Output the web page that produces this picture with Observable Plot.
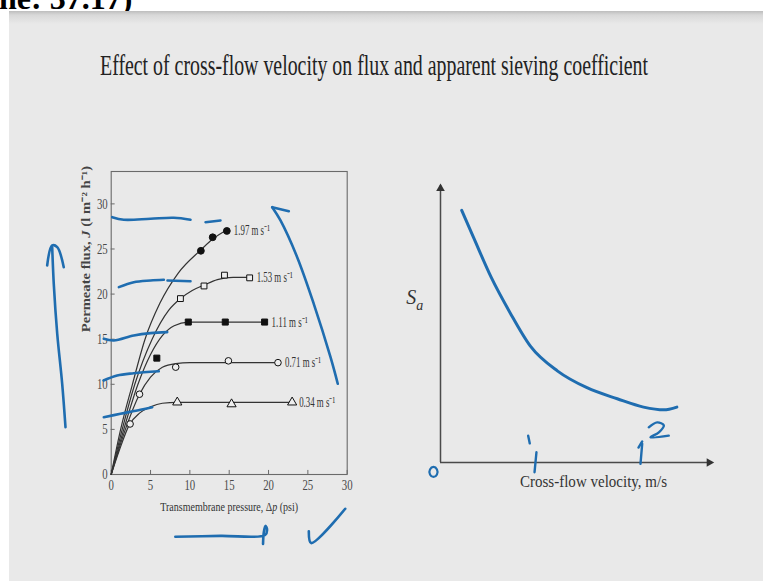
<!DOCTYPE html>
<html>
<head>
<meta charset="utf-8">
<script src="https://cdn.jsdelivr.net/npm/d3@7"></script>
<script src="https://cdn.jsdelivr.net/npm/@observablehq/plot@0.6"></script>
<style>
  html, body { margin: 0; padding: 0; background: #fff; }
  #page { position: relative; width: 763px; height: 581px; overflow: hidden; background: #fff; }
  #slide { position: absolute; left: 9px; top: 11px; right: 0; bottom: 0;
           background: linear-gradient(#bdbdbd 0px, #d8d8d8 4px, #e9e9e9 13px); }
  .abs { position: absolute; }
</style>
</head>
<body>
<div id="page">
  <svg class="abs" style="left:0;top:0" width="763" height="40">
    <text x="-1" y="9" font-family="Liberation Serif" font-weight="bold" font-size="32" fill="#000">ne: 37.17)</text>
  </svg>
  <div id="slide"></div>
  <svg id="heading" class="abs" style="left:0;top:0" width="763" height="100">
    <text id="title" font-family="Liberation Serif" font-size="30" fill="#222">Effect of cross-flow velocity on flux and apparent sieving coefficient</text>
  </svg>
  <div id="left" class="abs" style="left:0;top:150px;width:400px;height:420px"></div>
  <div id="right" class="abs" style="left:400px;top:150px;width:363px;height:400px"></div>
</div>
<script>
// ---------- Left panel: permeate flux vs transmembrane pressure ----------
const xTicks = [0, 5, 10, 15, 20, 25, 30];
const yTicks = [0, 5, 10, 15, 20, 25, 30];
const seriesLabels = ["1.97 m s⁻¹", "1.53 m s⁻¹", "1.11 m s⁻¹", "0.71 m s⁻¹", "0.34 m s⁻¹"];

// fitted curves, [psi, flux]
const curve197 = [[0,0],[1.2,5],[2.7,10],[4.3,15],[6.2,19],[8.5,22.3],[11.4,24.9],[12.9,26.1],[14.7,27.1]];
const curve153 = [[0,0],[1.4,5],[3.0,10],[5.2,15],[7.3,18.2],[8.8,19.5],[10.3,20.4],[11.8,21.0],[13.5,21.6],[15.5,21.85],[17.6,21.85]];
const curve111 = [[0,0],[1.6,5],[3.4,10],[5.0,13.3],[6.5,15.4],[8.0,16.5],[9.8,16.9],[14.5,16.9],[19.5,16.9]];
const curve071 = [[0,0],[1.8,5],[3.6,8.9],[5.0,10.8],[6.5,11.9],[8.2,12.3],[10,12.4],[21.2,12.4]];
const curve034 = [[0,0],[1.0,2.6],[2.3,5.5],[3.6,6.8],[5.0,7.5],[6.5,7.9],[8.4,8.0],[23,8.0]];

// measured points, [psi, flux]
const pts197 = [[11.4,24.8],[12.9,26.3],[14.7,27.0]];
const pts153 = [[8.8,19.5],[11.8,20.9],[14.4,22.1],[17.6,21.8]];
const pts111 = [[5.8,12.9],[9.8,16.9],[14.5,16.9],[19.5,16.9]];
const pts071 = [[2.4,5.6],[3.6,8.9],[8.2,11.9],[14.9,12.6],[21.2,12.4]];
const pts034 = [[8.4,8.0],[15.3,7.8],[23,8.0]];

// hand-drawn pen strokes over the left panel, in [psi, flux]
const penDash28a = [[0.13,28.53],[1.6,28.24],[5.0,28.35],[7.96,28.46],[10.08,28.24]];
const penDash28b = [[11.99,27.97],[13.89,28.16]];
const penDash21a = [[0.97,20.77],[2.87,21.32],[5.0,21.51],[6.69,21.59]];
const penDash21b = [[7.16,21.51],[10.08,21.43]];
const penDash15 = [[-0.94,15.04],[0.33,14.86],[2.87,15.41],[5.0,15.67],[7.12,15.78]];
const penDash11 = [[-0.98,10.42],[0.76,10.98],[2.87,11.23],[6.05,11.45]];
const penDash7 = [[-0.94,6.35],[1.18,6.73],[3.72,7.17],[5.21,7.46]];
const penArrowUpShaft = [[28.8,10.06],[27.88,13.0],[25.75,18.92],[23.64,24.09],[21.52,28.16],[20.47,29.63]];
const penArrowUpHead = [[20.47,29.63],[22.58,29.19]];
const penLeftShaft = [[-5.81,5.24],[-6.23,10.05],[-6.86,15.59],[-7.3,21.14],[-7.5,25.2]];
const penLeftHead = [[-8.14,23.17],[-7.5,25.39],[-6.86,25.2],[-6.03,22.98]];
const penBottomArrow = [[8.15,-6.9],[13.9,-6.8],[19.56,-6.7],[19.8,-6.0],[19.6,-5.7],[19.4,-6.4],[19.3,-7.7]];
const penCheck = [[25.12,-6.3],[25.42,-7.6],[29.75,-3.8]];

const ink = "#1f6db0";
const rows = (name, pts) => pts.map(([x, y]) => ({name, x, y}));
const curves = [curve197, curve153, curve111, curve071, curve034];
const points = [pts197, pts153, pts111, pts071, pts034];
const markerStyle = [
  {symbol: "circle", fill: "#111", r: 3.4},
  {symbol: "square", fill: "#eee", r: 3.3},
  {symbol: "square", fill: "#111", r: 3.4},
  {symbol: "circle", fill: "#eee", r: 3.3},
  {symbol: "triangle", fill: "#eee", r: 3.4}
];
const leftPen = {
  penDash28a, penDash28b, penDash21a, penDash21b, penDash15, penDash11, penDash7,
  penArrowUpShaft, penArrowUpHead, penLeftShaft, penLeftHead, penBottomArrow, penCheck
};
const penRows = (obj) => Object.entries(obj).flatMap(([k, v]) => rows(k, v));

const left = Plot.plot({
  width: 400, height: 420,
  marginLeft: 110.7, marginRight: 53.3, marginTop: 21, marginBottom: 96,
  x: {domain: [0, 30]},
  y: {domain: [0, 33.59]},
  style: {background: "transparent", overflow: "visible", fontFamily: "Liberation Serif", fontSize: "15px", color: "#444"},
  marks: [
    Plot.frame({stroke: "#6a6a6a", strokeWidth: 1.1}),
    Plot.ruleY(yTicks, {y: d => d, x1: 0, x2: 0.5, stroke: "#6a6a6a"}),
    Plot.ruleX(xTicks, {x: d => d, y1: 0, y2: 0.45, stroke: "#6a6a6a"}),
    Plot.axisY(yTicks, {tickSize: 0, tickPadding: 3.5, label: null, fill: "#4a4a4a"}),
    Plot.axisX(xTicks, {tickSize: 0, tickPadding: 5, label: null, fill: "#4a4a4a"}),
    Plot.text(["Permeate flux, J (l m⁻² h⁻¹)"], {frameAnchor: "left", rotate: -90, dx: -25, dy: 0, fontSize: 13, fontWeight: "bold", fill: "#444"}),
    Plot.text(["Transmembrane pressure, Δp (psi)"], {frameAnchor: "bottom", dy: 36, fontSize: 13, fill: "#333"}),
    Plot.line(seriesLabels.flatMap((s, i) => rows(s, curves[i])), {x: "x", y: "y", z: "name", curve: "monotone-x", stroke: "#333", strokeWidth: 1.2}),
    ...seriesLabels.map((s, i) => Plot.dot(rows(s, points[i]), {
      x: "x", y: "y", symbol: markerStyle[i].symbol, r: markerStyle[i].r,
      fill: markerStyle[i].fill, stroke: "#111", strokeWidth: 1
    })),
    Plot.text(seriesLabels.map((s, i) => ({name: s, x: points[i].at(-1)[0], y: points[i].at(-1)[1]})),
      {x: "x", y: "y", text: "name", dx: 7, textAnchor: "start", fontSize: 14, fill: "#333"}),
    Plot.line(penRows(leftPen), {x: "x", y: "y", z: "name", curve: "catmull-rom", stroke: ink, strokeWidth: 2.6, strokeLinecap: "round", strokeLinejoin: "round"})
  ]
});
document.getElementById("left").append(left);

// ---------- Right panel: sketch of apparent sieving coefficient vs velocity ----------
const velocity = [0.21, 0.33, 0.50, 0.69, 0.89, 1.16, 1.45, 1.75, 2.01, 2.21, 2.34];
const sieving  = [0.91, 0.81, 0.67, 0.54, 0.42, 0.33, 0.27, 0.23, 0.20, 0.19, 0.20];
const xAxisEnd = 2.69;
const penTick1a = [[0.868,0.097],[0.884,0.069]];
const penTick1b = [[0.950,0.037],[0.931,-0.035]];
const penTick2a = [[1.96,0.054],[1.997,0.076]];
const penTick2b = [[1.997,0.068],[1.980,-0.005]];
const penTwo = [[2.062,0.127],[2.145,0.145],[2.211,0.134],[2.162,0.109],[2.079,0.091],[2.260,0.097]];
const penZero = [[-0.069,-0.016],[-0.035,-0.025],[-0.035,-0.043],[-0.069,-0.052],[-0.104,-0.043],[-0.104,-0.025]];
const rightPen = {penTick1a, penTick1b, penTick2a, penTick2b, penTwo};

const right = Plot.plot({
  width: 363, height: 400,
  marginLeft: 40, marginRight: 51.3, marginTop: 35, marginBottom: 88,
  x: {domain: [0, xAxisEnd], axis: null},
  y: {domain: [0, 1], axis: null},
  style: {background: "transparent", overflow: "visible", fontFamily: "Liberation Serif", color: "#333"},
  marks: [
    Plot.ruleX([0], {y1: 0, y2: 1, stroke: "#4a4a4a", strokeWidth: 1.5}),
    Plot.ruleY([0], {x1: 0, x2: xAxisEnd, stroke: "#4a4a4a", strokeWidth: 1.5}),
    Plot.dot([{x: 0, y: 1}], {x: "x", y: "y", symbol: "triangle", r: 3.2, fill: "#333", dy: 3}),
    Plot.dot([{x: xAxisEnd, y: 0}], {x: "x", y: "y", symbol: "triangle", r: 3.2, fill: "#333", rotate: 90, dx: -3}),
    Plot.text(["Sa"], {x: -0.255, y: 0.594, fontSize: 20, fontStyle: "italic", fill: "#333"}),
    Plot.text(["Cross-flow velocity, m/s"], {x: 1.515, y: -0.067, fontSize: 17, fill: "#333"}),
    Plot.line(velocity.map((v, i) => ({v, s: sieving[i]})), {x: "v", y: "s", curve: "monotone-x", stroke: ink, strokeWidth: 3, strokeLinecap: "round"}),
    Plot.line(penRows(rightPen), {x: "x", y: "y", z: "name", curve: "catmull-rom", stroke: ink, strokeWidth: 2.4, strokeLinecap: "round", strokeLinejoin: "round"}),
    Plot.line(rows("penZero", penZero), {x: "x", y: "y", curve: "catmull-rom-closed", stroke: ink, strokeWidth: 2.2})
  ]
});
document.getElementById("right").append(right);

// ---------- typography: narrow serif setting of the printed figure ----------
const ns = "http://www.w3.org/2000/svg";
function setLength(t, len) {
  t.setAttribute("textLength", len.toFixed(1));
  t.setAttribute("lengthAdjust", "spacingAndGlyphs");
}
function spans(t, parts) {
  while (t.firstChild) t.removeChild(t.firstChild);
  for (const [txt, attrs] of parts) {
    const s = document.createElementNS(ns, "tspan");
    s.textContent = txt;
    for (const k in attrs) s.setAttribute(k, attrs[k]);
    t.append(s);
  }
}
// scale a text about its own centre (in its parent's coordinates)
function squeeze(t, kx, ky) {
  const b = t.getBBox();
  let px = b.x + b.width / 2, py = b.y + b.height / 2;
  const tr = t.transform.baseVal.consolidate();
  if (tr) {
    const m = tr.matrix;
    [px, py] = [m.a * px + m.c * py + m.e, m.b * px + m.d * py + m.f];
  }
  const g = document.createElementNS(ns, "g");
  g.setAttribute("transform", `translate(${px},${py}) scale(${kx},${ky}) translate(${-px},${-py})`);
  t.parentNode.insertBefore(g, t);
  g.appendChild(t);
}
left.querySelectorAll("text").forEach(t => {
  const s = t.textContent;
  if (s.startsWith("Permeate")) {
    spans(t, [["Permeate flux, ", {}], ["J", {"font-style": "italic"}], [" (l m⁻² h⁻¹)", {}]]);
    squeeze(t, 1, 165 / t.getComputedTextLength());
  } else if (s.startsWith("Transmembrane")) {
    spans(t, [["Transmembrane pressure, Δ", {}], ["p", {"font-style": "italic"}], [" (psi)", {}]]);
    squeeze(t, 138 / t.getComputedTextLength(), 1);
  } else if (s.includes("m s")) setLength(t, 36);
  else setLength(t, t.getComputedTextLength() * 0.72);
});
right.querySelectorAll("text").forEach(t => {
  const s = t.textContent;
  if (s.startsWith("Cross")) setLength(t, 147);
  else if (s === "Sa") spans(t, [["S", {}], ["a", {"font-size": "14", "dy": "6"}]]);
});

// heading: scale the serif line horizontally to its set width
const title = document.getElementById("title");
const natural = title.getComputedTextLength();
title.setAttribute("transform", `translate(100,75) scale(${(548 / natural).toFixed(4)},1)`);
</script>
</body>
</html>
